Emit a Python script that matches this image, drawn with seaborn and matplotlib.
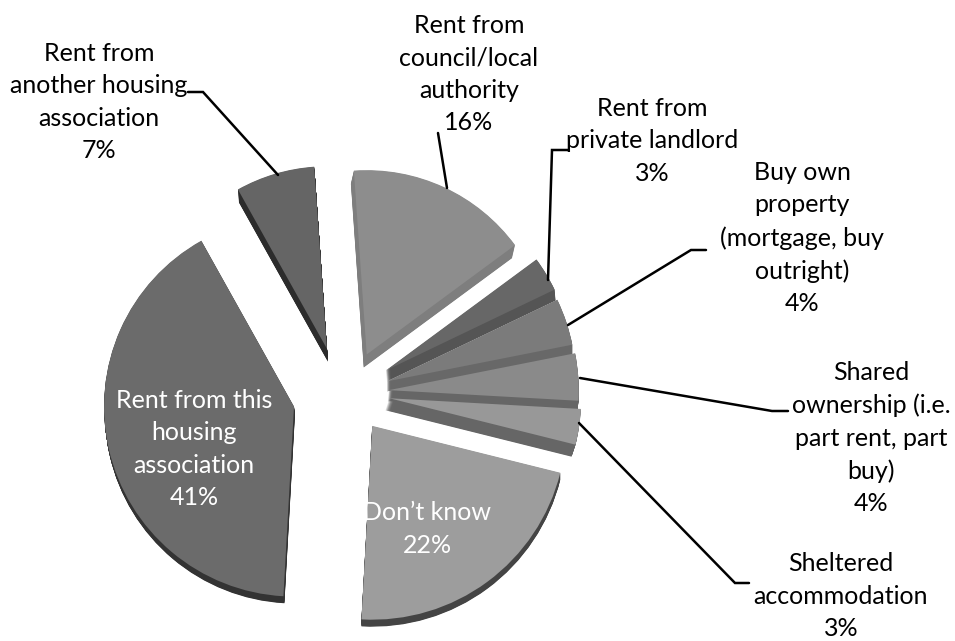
import matplotlib
matplotlib.use("Agg")
import matplotlib.pyplot as plt
from matplotlib.patches import Wedge
from matplotlib.transforms import Affine2D
import seaborn as sns

# Housing tenure shares, clockwise from the top of the pie
tenures = [
    "Rent from\ncouncil/local\nauthority",
    "Rent from\nprivate landlord",
    "Buy own\nproperty\n(mortgage, buy\noutright)",
    "Shared\nownership (i.e.\npart rent, part\nbuy)",
    "Sheltered\naccommodation",
    "Don\u2019t know",
    "Rent from this\nhousing\nassociation",
    "Rent from\nanother housing\nassociation",
]
shares = [16, 3, 4, 4, 3, 22, 41, 7]

# Slice styling, same order as the shares
top_greys = ["#8d8d8d", "#676767", "#7b7b7b", "#8a8a8a", "#989898", "#9d9d9d", "#6b6b6b", "#656565"]
side_greys = ["#7e7e7e", "#555555", "#686868", "#666666", "#666666", "#444444", "#333333", "#2c2c2c"]
pull_out = [0.235, 0.22, 0.21, 0.215, 0.22, 0.215, 0.27, 0.26]
radii = [0.97, 0.985, 0.995, 1.0, 1.01, 1.02, 1.0, 0.96]
# Small sideways and vertical shifts of each pulled-out slice, in pixels
nudges = [(1, 0), (3, -3), (2, -1), (1, -2), (1, -3), (1, -2), (-3, 0), (-6, 1)]
# Extrusion of each slice in pixels (sideways, downwards)
extrusion = [(-3, 13), (1, 11), (0, 10), (-1, 11), (-4, 12), (0, 7), (1, 7), (1, 13)]
draw_order = [7, 6, 0, 1, 2, 3, 4, 5]

# Label anchors and leader lines, in pixels from the top-left corner
label_spots = [(469, 74), (652, 141), (802, 238), (871, 438), (841, 596), (427, 529), (194, 449), (99, 102)]
label_colors = ["black"] * 5 + ["white", "white"] + ["black"]
leaders = [
    [(438, 133), (447, 188)],
    [(568, 150), (552, 150), (548, 280)],
    [(706, 250), (691, 250), (568, 325)],
    [(788, 411), (772, 411), (580, 378)],
    [(749, 583), (735, 583), (579, 423)],
    [(188, 92), (203, 92), (278, 175)],
]

WIDTH, HEIGHT = 955, 641
UNIT = 190.0
CENTER_X, CENTER_Y = 347.0, 395.0

sns.set_theme(style="white")
plt.rcParams["font.family"] = ["Lato", "DejaVu Sans"]

fig = plt.figure(figsize=(WIDTH / 100, HEIGHT / 100), dpi=100, facecolor="white")
ax = fig.add_axes([0, 0, 1, 1])
wedges, _ = ax.pie(
    shares,
    explode=pull_out,
    colors=top_greys,
    startangle=94,
    counterclock=False,
    radius=1.0,
    frame=True,
    wedgeprops={"linewidth": 0},
)
ax.set_xlim(-CENTER_X / UNIT, (WIDTH - CENTER_X) / UNIT)
ax.set_ylim((CENTER_Y - HEIGHT) / UNIT, CENTER_Y / UNIT)
ax.set_aspect("equal")
ax.axis("off")

# Stack offset copies under every wedge to give the pie its thickness
for layer, i in enumerate(draw_order):
    w = wedges[i]
    w.set_radius(radii[i])
    w.set_center((w.center[0] + nudges[i][0] / UNIT, w.center[1] - nudges[i][1] / UNIT))
    base = 10 + 3 * layer
    w.set_zorder(base + 1)
    dx, dy = extrusion[i]
    steps = max(abs(dx), abs(dy)) * 2
    for s in range(1, steps + 1):
        f = s / steps
        ax.add_patch(
            Wedge(
                (w.center[0] + f * dx / UNIT, w.center[1] - f * dy / UNIT),
                w.r,
                w.theta1,
                w.theta2,
                facecolor=side_greys[i],
                edgecolor="none",
                zorder=base,
            )
        )

# Pixel coordinates with the origin at the top-left corner
px = Affine2D().scale(1, -1).translate(0, HEIGHT)

for points in leaders:
    xs, ys = zip(*points)
    ax.plot(xs, ys, color="black", lw=1.8, transform=px, zorder=50, solid_joinstyle="miter", clip_on=False)

for name, share, (x, y), color in zip(tenures, shares, label_spots, label_colors):
    ax.text(
        x, y, f"{name}\n{share}%", transform=px, ha="center", va="center",
        ma="center", color=color, fontsize=18, linespacing=1.5, zorder=60,
    )

fig.savefig("out.png", dpi=100, facecolor="white")
